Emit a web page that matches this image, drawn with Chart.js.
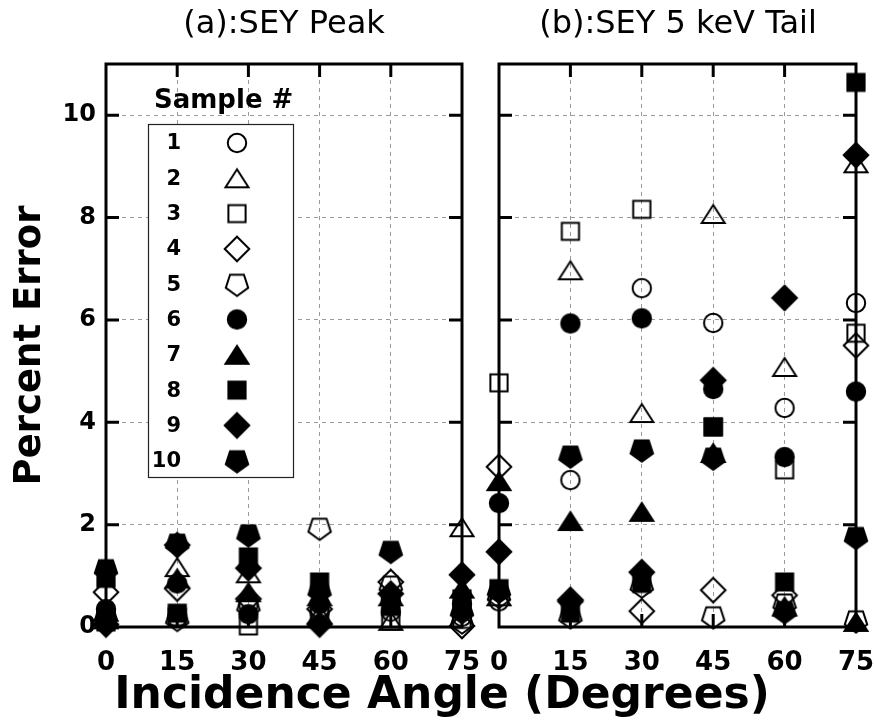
<!DOCTYPE html>
<html>
<head>
<meta charset="utf-8">
<script src="https://cdn.jsdelivr.net/npm/chart.js@4.4.1/dist/chart.umd.min.js"></script>
<style>
  html, body { margin: 0; padding: 0; background: #fff; }
  #wrap { position: relative; width: 874px; height: 722px; overflow: hidden; font-family: "DejaVu Sans", sans-serif; color: #000; }
  canvas { position: absolute; top: 0; }
  #cvA { left: 0; }
  #cvB { left: 482px; }
  .panelTitle { position: absolute; top: 6px; font-size: 32px; line-height: 1; white-space: nowrap; transform: translateX(-50%); }
  #xTitle { position: absolute; top: 671px; left: 442px; font-size: 44px; font-weight: bold; line-height: 1; white-space: nowrap; transform: translateX(-50%); }
</style>
</head>
<body>
<div id="wrap">
  <canvas id="cvA" width="484" height="722"></canvas>
  <canvas id="cvB" width="392" height="722"></canvas>
  <div class="panelTitle" style="left:284px">(a):SEY Peak</div>
  <div class="panelTitle" style="left:678px">(b):SEY 5 keV Tail</div>
  <div id="xTitle">Incidence Angle (Degrees)</div>
</div>
<script>
// Incidence angles (degrees) and axis ticks
const angles = [0, 15, 30, 45, 60, 75];
const xTicks = [0, 15, 30, 45, 60, 75];
const yTicks = [0, 2, 4, 6, 8, 10];
const sampleLabels = ['1', '2', '3', '4', '5', '6', '7', '8', '9', '10'];

// (a) SEY peak: percent error per sample, one value per angle
const peak1  = [0.25, 0.18, 0.43, 0.30, 0.30, 0.20];
const peak2  = [0.15, 1.17, 1.05, 0.25, 0.12, 1.95];
const peak3  = [0.10, 0.20, 0.02, 0.20, 0.12, 0.15];
const peak4  = [0.68, 0.75, 0.55, 0.35, 0.88, 0.02];
const peak5  = [0.20, 0.15, 0.40, 1.93, 0.80, 0.10];
const peak6  = [0.35, 0.85, 0.25, 0.45, 0.50, 0.45];
const peak7  = [0.30, 0.95, 0.68, 0.60, 0.60, 0.75];
const peak8  = [0.95, 0.27, 1.37, 0.88, 0.40, 0.55];
const peak9  = [0.05, 1.60, 1.15, 0.05, 0.65, 1.02];
const peak10 = [1.12, 1.62, 1.80, 0.70, 1.48, 0.30];

// (b) SEY 5 keV tail: percent error per sample, one value per angle
const tail1  = [0.50, 2.87, 6.62, 5.94, 4.28, 6.33];
const tail2  = [0.60, 6.97, 4.18, 8.07, 5.08, 9.06];
const tail3  = [4.77, 7.73, 8.16, 3.91, 3.07, 5.74];
const tail4  = [3.13, 0.53, 0.31, 0.72, 0.62, 5.50];
const tail5  = [0.60, 0.20, 0.80, 0.20, 0.45, 0.12];
const tail6  = [2.42, 5.93, 6.03, 4.65, 3.32, 4.60];
const tail7  = [2.85, 2.07, 2.25, 3.40, 0.40, 0.10];
const tail8  = [0.75, 0.27, 0.85, 3.91, 0.88, 10.64];
const tail9  = [1.47, 0.50, 1.07, 4.82, 6.43, 9.22];
const tail10 = [0.70, 3.34, 3.46, 3.30, 0.30, 1.75];

const peakSeries = [peak1, peak2, peak3, peak4, peak5, peak6, peak7, peak8, peak9, peak10];
const tailSeries = [tail1, tail2, tail3, tail4, tail5, tail6, tail7, tail8, tail9, tail10];

// Marker shape per sample: open shapes for 1-5, filled for 6-10
const shapeKinds = ['circle', 'triangle', 'square', 'diamond', 'pentagon',
                    'circle', 'triangle', 'square', 'diamond', 'pentagon'];
const shapeFilled = [false, false, false, false, false, true, true, true, true, true];

function makeMarker(kind, filled) {
  const S = 30;
  const c = document.createElement('canvas');
  c.width = S; c.height = S;
  const g = c.getContext('2d');
  const cx = S / 2, cy = S / 2;
  g.lineWidth = 2;
  g.strokeStyle = '#000';
  g.fillStyle = '#000';
  g.lineJoin = 'miter';
  g.beginPath();
  if (kind === 'circle') {
    g.arc(cx, cy, 9.2, 0, Math.PI * 2);
  } else if (kind === 'square') {
    g.rect(cx - 8.6, cy - 8.6, 17.2, 17.2);
  } else if (kind === 'diamond') {
    const r = 12.3;
    g.moveTo(cx, cy - r); g.lineTo(cx + r, cy); g.lineTo(cx, cy + r); g.lineTo(cx - r, cy);
    g.closePath();
  } else if (kind === 'triangle') {
    const w = 23, h = 18;
    g.moveTo(cx, cy - h / 2); g.lineTo(cx + w / 2, cy + h / 2); g.lineTo(cx - w / 2, cy + h / 2);
    g.closePath();
  } else if (kind === 'pentagon') {
    const r = 11.8;
    for (let k = 0; k < 5; k++) {
      const a = Math.PI / 2 + k * 2 * Math.PI / 5;
      const px = cx + r * Math.cos(a), py = cy + r * Math.sin(a);
      if (k === 0) g.moveTo(px, py); else g.lineTo(px, py);
    }
    g.closePath();
  }
  if (filled) g.fill();
  g.stroke();
  return c;
}

const markers = shapeKinds.map((k, i) => makeMarker(k, shapeFilled[i]));

function buildDatasets(series) {
  return series.map((vals, i) => ({
    label: sampleLabels[i],
    data: angles.map((a, j) => ({ x: a, y: vals[j] })),
    pointStyle: markers[i],
    showLine: false,
    clip: false,
    order: series.length - i
  }));
}

// Frame around the plot area with inward tick marks on all four sides
const framePlugin = {
  id: 'frame',
  beforeDatasetsDraw(chart) {
    const { ctx, chartArea: a, scales } = chart;
    const L = 13;
    ctx.save();
    ctx.strokeStyle = '#000';
    ctx.lineWidth = 3;
    ctx.lineCap = 'butt';
    ctx.strokeRect(a.left, a.top, a.right - a.left, a.bottom - a.top);
    ctx.beginPath();
    yTicks.forEach(v => {
      if (v === 0) return;
      const py = scales.y.getPixelForValue(v);
      ctx.moveTo(a.left, py); ctx.lineTo(a.left + L, py);
      ctx.moveTo(a.right, py); ctx.lineTo(a.right - L, py);
    });
    xTicks.forEach(v => {
      if (v === 0 || v === 75) return;
      const px = scales.x.getPixelForValue(v);
      ctx.moveTo(px, a.top); ctx.lineTo(px, a.top + L);
      ctx.moveTo(px, a.bottom); ctx.lineTo(px, a.bottom - L);
    });
    ctx.stroke();
    ctx.restore();
  }
};

// Boxed "Sample #" key inside panel (a)
const keyPlugin = {
  id: 'sampleKey',
  afterDatasetsDraw(chart) {
    const ctx = chart.ctx;
    ctx.save();
    ctx.fillStyle = '#000';
    ctx.font = 'bold 26px "DejaVu Sans"';
    ctx.textAlign = 'left';
    ctx.textBaseline = 'middle';
    ctx.fillText('Sample #', 154, 101);
    ctx.fillStyle = '#fff';
    ctx.fillRect(148, 124, 145, 353);
    ctx.strokeStyle = '#222';
    ctx.lineWidth = 1.2;
    ctx.strokeRect(148.5, 124.5, 145, 353);
    ctx.fillStyle = '#000';
    ctx.font = 'bold 21px "DejaVu Sans"';
    ctx.textAlign = 'right';
    chart.data.datasets.forEach((ds, i) => {
      const cy = 143 + i * 35.3;
      ctx.fillText(ds.label, 181, cy + 1);
      const img = ds.pointStyle;
      ctx.drawImage(img, 237 - img.width / 2, cy - img.height / 2);
    });
    ctx.restore();
  }
};

const xTickFont = { family: 'DejaVu Sans', size: 26, weight: 'bold' };
const yTickFont = { family: 'DejaVu Sans', size: 24, weight: 'bold' };
const gridColorX = c => (c.tick && (c.tick.value === 0 || c.tick.value === 75)) ? 'rgba(0,0,0,0)' : '#9a9a9a';
const gridColorY = c => (c.tick && c.tick.value === 0) ? 'rgba(0,0,0,0)' : '#9a9a9a';

function makeOptions(isLeft) {
  return {
    responsive: false,
    animation: false,
    events: [],
    layout: { padding: { top: 64, right: isLeft ? 22 : 18, left: 0, bottom: 0 } },
    plugins: { legend: { display: false }, tooltip: { enabled: false }, title: { display: false } },
    scales: {
      x: {
        type: 'linear', min: 0, max: 75,
        afterBuildTicks: s => { s.ticks = xTicks.map(v => ({ value: v })); },
        afterFit: s => { s.height = 95; s.paddingLeft = 0; s.paddingRight = 0; },
        grid: { color: gridColorX, lineWidth: 1, drawTicks: false },
        border: { display: false, dash: [4, 4] },
        ticks: { font: xTickFont, color: '#000', padding: 21, maxRotation: 0, autoSkip: false }
      },
      y: {
        type: 'linear', min: 0, max: 11,
        afterBuildTicks: s => { s.ticks = yTicks.map(v => ({ value: v })); },
        afterFit: s => { s.width = isLeft ? 106 : 17; s.paddingTop = 0; s.paddingBottom = 0; },
        grid: { color: gridColorY, lineWidth: 1, drawTicks: false },
        border: { display: false, dash: [4, 4] },
        ticks: { display: isLeft, font: yTickFont, color: '#000', padding: 10 },
        title: isLeft ? { display: true, text: 'Percent Error', color: '#000',
                          font: { family: 'DejaVu Sans', size: 37, weight: 'bold' }, padding: { top: 8, bottom: 0 } }
                      : { display: false }
      }
    }
  };
}

new Chart(document.getElementById('cvA'), {
  type: 'scatter',
  data: { datasets: buildDatasets(peakSeries) },
  options: makeOptions(true),
  plugins: [framePlugin, keyPlugin]
});

new Chart(document.getElementById('cvB'), {
  type: 'scatter',
  data: { datasets: buildDatasets(tailSeries) },
  options: makeOptions(false),
  plugins: [framePlugin]
});
</script>
</body>
</html>
